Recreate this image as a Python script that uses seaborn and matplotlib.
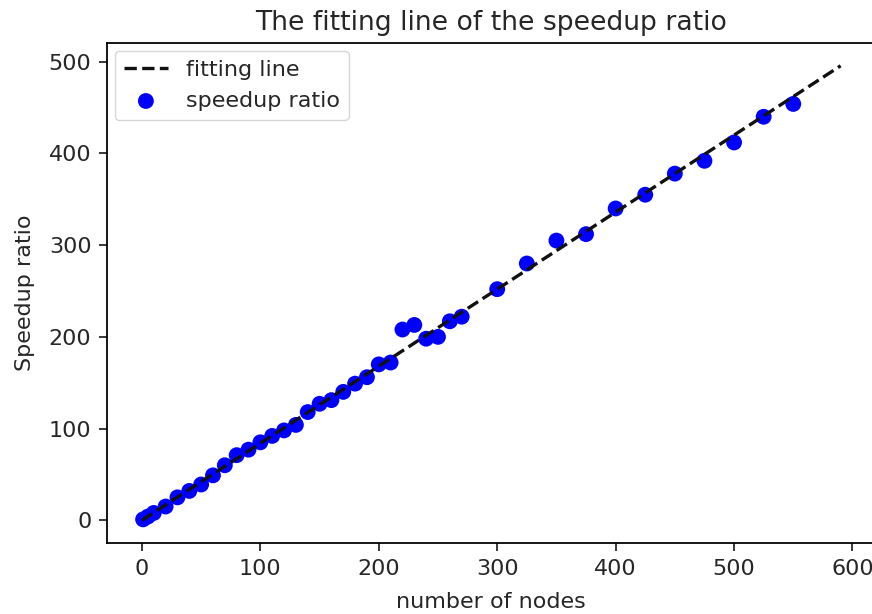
import matplotlib
matplotlib.use("Agg")
import matplotlib.pyplot as plt
import seaborn as sns
import pandas as pd

nodes = [1, 5, 10, 20, 30, 40, 50, 60, 70, 80, 90, 100, 110, 120, 130, 140,
         150, 160, 170, 180, 190, 200, 210, 220, 230, 240, 250, 260, 270,
         300, 325, 350, 375, 400, 425, 450, 475, 500, 525, 550]
speedup = [1, 4, 8, 15, 25, 32, 39, 49, 60, 71, 77, 85, 92, 98, 104, 118,
           127, 131, 140, 149, 156, 170, 172, 208, 213, 198, 200, 217, 222,
           252, 280, 305, 312, 340, 355, 378, 392, 412, 440, 454]

# fitted line end points
fit_x = [0, 590]
fit_y = [0, 495.6]

S = 1.6  # scale of the original rendering
plt.rcParams.update({
    'font.family': 'DejaVu Sans',
    'font.size': 10 * S,
    'axes.linewidth': 0.8 * S,
    'xtick.major.size': 3.5 * S,
    'ytick.major.size': 3.5 * S,
    'xtick.major.width': 0.8 * S,
    'ytick.major.width': 0.8 * S,
    'xtick.major.pad': 3.5 * S,
    'ytick.major.pad': 3.5 * S,
    'text.color': '#262626',
    'axes.labelcolor': '#262626',
    'xtick.color': '#262626',
    'ytick.color': '#262626',
})

df_pts = pd.DataFrame({'nodes': nodes, 'speedup': speedup})
df_fit = pd.DataFrame({'nodes': fit_x, 'speedup': fit_y})

fig = plt.figure(figsize=(8.72, 6.14), dpi=100)
ax = fig.add_axes([0.1227, 0.1156, 0.8814, 0.8143])

sns.lineplot(data=df_fit, x='nodes', y='speedup', ax=ax, color='#111111',
             linestyle='--', linewidth=1.5 * S, label='fitting line')
sns.scatterplot(data=df_pts, x='nodes', y='speedup', ax=ax, color='blue',
                s=130, edgecolor='none', label='speedup ratio', zorder=1)

ax.set_title('The fitting line of the speedup ratio', fontsize=12 * S, pad=6 * S)
ax.set_xlabel('number of nodes', labelpad=10)
ax.set_ylabel('Speedup ratio', labelpad=10)
ax.set_xlim(-29.5, 619.5)
ax.set_ylim(-24.8, 520.4)
ax.set_xticks([0, 100, 200, 300, 400, 500, 600])
ax.set_yticks([0, 100, 200, 300, 400, 500])
ax.legend(loc='upper left', borderaxespad=0.35)

fig.savefig('out.png', dpi=100)
